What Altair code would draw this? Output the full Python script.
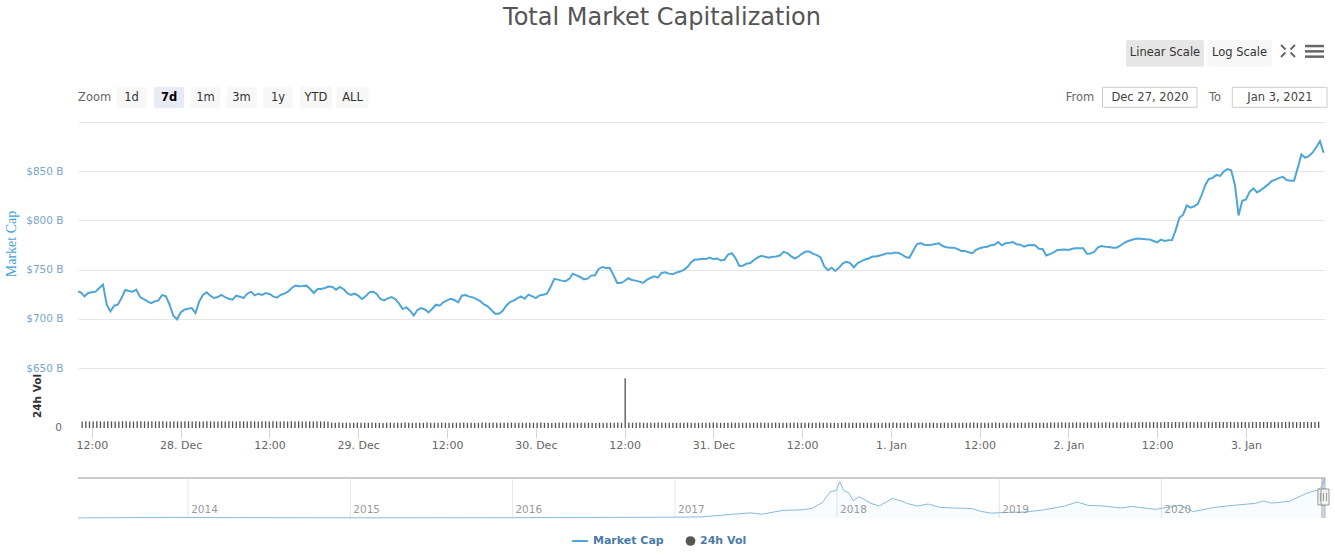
import altair as alt
import pandas as pd

# ---------------------------------------------------------------- data
# Total crypto market capitalisation (USD bn), one reading every 30 min
# starting 27 Dec 2020 10:00.
cap_bn = [
    727.9, 726.9, 722.8, 726.2, 726.9, 727.6, 731.3, 734.7, 714.3, 707.5,
    713.3, 714.3, 721.1, 729.3, 728.2, 727.6, 729.6, 722.1, 720.1, 717.7,
    716.0, 717.7, 718.7, 724.2, 722.8, 714.3, 703.1, 699.5, 706.5, 709.2,
    710.2, 710.9, 705.8, 717.7, 724.2, 726.9, 723.5, 721.1, 722.1, 724.2,
    722.1, 720.4, 719.4, 723.5, 722.5, 721.1, 725.5, 727.6, 723.8, 725.5,
    724.2, 726.2, 725.2, 722.8, 721.4, 724.2, 725.5, 727.6, 731.3, 733.7,
    733.0, 733.3, 733.7, 730.3, 726.2, 730.3, 730.3, 731.3, 732.7, 732.3,
    729.6, 732.3, 730.3, 726.2, 724.2, 725.5, 723.5, 720.1, 722.8, 726.9,
    727.6, 725.2, 720.1, 718.7, 720.8,
    722.1, 720.1, 715.7, 709.9, 711.6, 708.2, 703.4, 708.9, 710.9, 709.5,
    706.5, 710.2, 714.3, 713.3, 716.7, 718.7, 720.4, 719.1, 716.7, 723.5,
    724.2, 722.5, 721.8, 720.1, 718.0, 714.6, 712.6, 708.9, 705.1, 705.1,
    707.8, 713.3, 717.0, 718.4, 720.8, 722.8, 720.4, 724.5, 723.1, 721.1,
    723.8, 724.5, 725.5, 732.3, 740.5, 739.8, 738.8, 738.1, 740.5, 745.9,
    744.2, 742.5, 740.1, 740.8, 743.9, 744.2, 750.7, 752.7, 751.7, 751.7,
    744.6, 736.4, 736.4, 738.4, 741.2, 739.5, 738.8, 737.8, 736.4, 739.5,
    741.5, 743.2, 741.8, 746.6, 747.3, 745.9, 745.2, 746.9, 748.0, 749.7,
    752.7, 757.5, 760.2, 760.2, 760.9,
    760.7, 762.3, 760.7, 761.3, 759.3, 760.0, 765.3, 766.7, 761.7, 753.7,
    754.0, 756.0, 756.7, 759.7, 762.3, 764.0, 763.0, 762.0, 763.0, 763.3,
    764.3, 768.0, 766.7, 763.7, 761.3, 763.3, 766.3, 768.3, 768.3, 766.0,
    764.7, 762.3, 753.3, 749.5, 752.0, 748.7, 752.0, 756.3, 758.0, 756.7,
    752.3, 756.7, 758.3, 760.3, 761.3, 763.3, 763.3, 764.3, 765.3, 766.7,
    766.3, 767.0, 767.0, 765.3, 762.7, 762.0, 769.0, 775.7, 777.0, 775.3,
    775.0, 775.3, 776.0, 776.7, 774.0, 772.7, 772.3, 772.3, 771.0, 769.0,
    769.0, 767.7, 766.7, 770.0, 771.7, 772.7, 773.3, 774.7, 775.3, 778.0,
    774.7, 776.7, 777.3, 778.0, 775.7,
    775.3, 773.3, 774.7, 775.0, 774.7, 771.2, 770.9, 764.4, 765.7, 767.5,
    769.9, 770.2, 770.5, 769.9, 771.2, 771.6, 771.6, 771.6, 766.1, 766.4,
    768.1, 772.6, 774.0, 773.3, 772.9, 772.3, 772.3, 774.3, 777.0, 778.8,
    780.1, 781.2, 781.5, 781.2, 780.8, 780.5, 779.1, 777.7, 780.5, 779.1,
    779.8, 780.1, 790.1, 802.7, 805.8, 815.1, 813.0, 814.4, 816.8, 825.7,
    836.0, 842.1, 843.2, 846.2, 845.2, 849.7, 852.1, 851.0, 836.3, 805.0,
    819.9, 821.2, 829.1, 832.5, 828.4, 830.8, 833.6, 836.6, 840.1, 841.4,
    843.2, 844.2, 841.1, 840.4, 840.4, 853.4, 867.1, 863.7, 865.4, 868.8,
    874.3, 880.5, 868.8,
]

# 24h traded volume (USD bn) at the same timestamps
vol_bn = [
    192, 196, 190, 194, 198, 193, 189, 195, 197, 191, 194, 199, 196, 192, 190, 195, 198, 194, 191, 196, 193, 197, 195, 190,
    194, 198, 192, 189, 195, 197, 193, 196, 191, 194, 199, 195, 192, 190, 196, 193, 197, 194, 191, 195, 198, 192, 196, 193,
    190, 195, 197, 193, 196, 192, 194, 198, 191, 195, 193, 197, 194, 190, 196, 192, 195, 193, 189, 194, 158, 154, 160, 156,
    152, 157, 155, 159, 153, 156, 151, 158, 154, 157, 150, 155, 159, 153, 156, 152, 158, 154, 151, 157, 155, 153, 159, 156,
    152, 155, 158, 154, 151, 157, 153, 156, 159, 152, 155, 150, 154, 158, 153, 156, 152, 157, 154, 151, 155, 158, 153, 156,
    154, 151, 157, 153, 156, 159, 152, 155, 150, 154, 158, 153, 157, 152, 155, 151, 156, 154, 158, 153, 150, 155, 157, 152,
    156, 153, 158, 154, 1460, 157, 152, 155, 159, 153, 156, 151, 154, 158, 152, 155, 157, 153, 150, 156, 154, 158, 152, 155,
    153, 157, 151, 155, 158, 154, 152, 156, 153, 159, 155, 151, 154, 157, 152, 156, 153, 158, 155, 151, 154, 157, 153, 156,
    152, 155, 158, 153, 156, 151, 154, 157, 153, 159, 155, 152, 156, 153, 150, 154, 158, 152, 155, 157, 153, 156, 151, 154,
    157, 153, 156, 152, 155, 159, 154, 151, 156, 153, 158, 155, 152, 154, 157, 153, 156, 150, 155, 158, 152, 154, 157, 153,
    156, 152, 155, 158, 153, 157, 151, 154, 156, 159, 153, 155, 152, 157, 154, 151, 156, 153, 158, 155, 152, 154, 157, 153,
    160, 163, 158, 165, 161, 164, 159, 166, 162, 160, 165, 163, 158, 164, 161, 167, 163, 160, 165, 162, 168, 164, 161, 166,
    170, 174, 168, 172, 176, 171, 169, 175, 173, 170, 177, 172, 174, 169, 176, 171, 175, 173, 170, 178, 172, 174, 171, 176,
    173, 177, 171, 175, 179, 174, 172, 178, 175, 173, 180, 176, 174, 178, 172, 177, 175, 181, 176, 173, 179, 175, 178, 174,
    177, 180,
]

# Full-history market cap (USD bn) for the navigator strip
nav_dates = [
    "2013-04-28", "2013-11-30", "2014-03-01", "2014-09-01", "2015-01-15", "2015-08-01",
    "2016-01-01", "2016-06-15", "2016-12-31", "2017-03-01", "2017-05-25", "2017-06-20",
    "2017-07-15", "2017-08-31", "2017-10-15", "2017-11-05", "2017-11-28", "2017-12-17",
    "2017-12-30", "2018-01-07", "2018-01-16", "2018-01-28", "2018-02-06", "2018-02-20",
    "2018-03-01", "2018-03-18", "2018-04-06", "2018-05-05", "2018-05-20", "2018-06-10",
    "2018-07-01", "2018-07-25", "2018-08-20", "2018-09-20", "2018-10-31", "2018-11-20",
    "2018-12-14", "2019-01-15", "2019-03-01", "2019-04-10", "2019-05-28", "2019-06-26",
    "2019-07-20", "2019-08-25", "2019-10-01", "2019-10-27", "2019-12-18", "2020-02-13",
    "2020-03-13", "2020-04-30", "2020-06-01", "2020-07-31", "2020-08-17", "2020-09-05",
    "2020-10-15", "2020-11-24", "2020-12-17", "2020-12-27", "2021-01-03",
]
nav_caps = [
    1.6, 14, 9, 6, 4, 5,
    7, 12, 18, 25, 95, 115,
    85, 170, 185, 215, 340, 590,
    620, 815, 620, 560, 390, 480,
    430, 330, 270, 440, 400, 320,
    270, 315, 240, 225, 215, 150,
    110, 125, 135, 180, 270, 360,
    285, 270, 225, 260, 195, 290,
    145, 240, 275, 330, 385, 335,
    375, 560, 630, 700, 880,
]

year_starts = ["2014-01-01", "2015-01-01", "2016-01-01", "2017-01-01",
               "2018-01-01", "2019-01-01", "2020-01-01"]
year_names = ["2014", "2015", "2016", "2017", "2018", "2019", "2020"]

zoom_labels = ["1d", "7d", "1m", "3m", "1y", "YTD", "ALL"]
selected_zoom = "7d"
range_from, range_to = "Dec 27, 2020", "Jan 3, 2021"
view_start, view_end = "2020-12-27 10:07", "2021-01-03 10:41"

# ---------------------------------------------------------------- layout
LEFT, TOP = 78, 122            # plot origin on the page
PLOT_W, PLOT_H = 1247, 396     # main + volume + navigator stacked
FONT = "DejaVu Sans"
CAP_COLOR = "#4fa6d6"
VOL_COLOR = "#505055"
LEGEND_TEXT = "#4a7aa8"


def dt(ts):
    ts = pd.Timestamp(ts)
    return alt.DateTime(year=ts.year, month=ts.month, date=ts.day,
                        hours=ts.hour, minutes=ts.minute)


times = pd.date_range("2020-12-27 10:00", periods=len(cap_bn), freq="30min")
series = pd.DataFrame({"time": times, "cap": cap_bn, "vol": vol_bn, "base": 0.0})
nav = pd.DataFrame({"date": pd.to_datetime(nav_dates), "cap": nav_caps})
years = pd.DataFrame({"date": pd.to_datetime(year_starts), "label": year_names})
window = pd.DataFrame({"start": [pd.Timestamp(view_start)], "end": [pd.Timestamp(view_end)]})
edges = pd.DataFrame({"t": [pd.Timestamp(view_start), pd.Timestamp(view_end)]})

x_main = alt.Scale(domain=[dt(view_start), dt(view_end)], nice=False)
x_nav = alt.Scale(domain=[dt("2013-04-28"), dt(view_end)], nice=False)
nav_y = alt.Scale(domain=[0, 900], range=[396, 356], nice=False)

tick_times = [dt(t) for t in pd.date_range("2020-12-27 12:00", "2021-01-03 00:00", freq="12h")]

# ---------------------------------------------------------------- main series
price_line = alt.Chart(series).mark_line(color=CAP_COLOR, strokeWidth=2, clip=True).encode(
    x=alt.X("time:T", scale=x_main, axis=alt.Axis(
        values=tick_times,
        labelExpr="hours(datum.value) === 0 ? timeFormat(datum.value, '%-d. %b') : timeFormat(datum.value, '%H:%M')",
        offset=-90, grid=False, domain=False, tickColor="#ccd6eb", tickSize=10,
        labelPadding=1, labelColor="#666666", labelFont=FONT, labelFontSize=11,
        labelFlush=False, labelOverlap=False, title=None)),
    y=alt.Y("cap:Q", scale=alt.Scale(domain=[650, 900], range=[246, 0], nice=False), axis=alt.Axis(
        values=[650, 700, 750, 800, 850, 900],
        labelExpr="datum.value >= 900 ? '' : '$' + datum.value + ' B'",
        grid=True, gridColor="#e6e6e6", domain=False, ticks=False, labelPadding=15,
        labelColor="#78a5c8", labelFont=FONT, labelFontSize=10.5, title=None)),
)

volume_bars = alt.Chart(series).mark_bar(color=VOL_COLOR, size=1.3, clip=True).encode(
    x=alt.X("time:T", scale=x_main, axis=None),
    y=alt.Y("vol:Q", scale=alt.Scale(domain=[0, 1700], range=[306, 248], nice=False), axis=None),
    y2="base:Q",
)

# ---------------------------------------------------------------- navigator
nav_x_enc = alt.X("date:T", scale=x_nav, axis=None)
nav_area = alt.Chart(nav).mark_area(color=CAP_COLOR, opacity=0.03).encode(
    x=nav_x_enc, y=alt.Y("cap:Q", scale=nav_y, axis=None))
nav_line = alt.Chart(nav).mark_line(color="#86bcdf", strokeWidth=1).encode(
    x=nav_x_enc, y=alt.Y("cap:Q", scale=nav_y, axis=None))
year_rules = alt.Chart(years).mark_rule(color="#e6e6e6").encode(
    x=nav_x_enc, y=alt.value(356), y2=alt.value(396))
year_text = alt.Chart(years).mark_text(align="left", dx=3, baseline="middle", font=FONT,
                                       fontSize=10.5, color="#999999").encode(
    x=nav_x_enc, y=alt.value(388), text="label:N")
nav_top = alt.Chart(years).mark_rule(color="#cccccc").encode(
    x=alt.value(0), x2=alt.value(PLOT_W), y=alt.value(356))
nav_mask = alt.Chart(window).mark_rect(color="#6685c2", opacity=0.3).encode(
    x=alt.X("start:T", scale=x_nav, axis=None), x2="end:T", y=alt.value(356), y2=alt.value(396))
edge_x = alt.X("t:T", scale=x_nav, axis=None)
edge_lines = alt.Chart(edges).mark_rule(color="#b5b5b5").encode(
    x=edge_x, y=alt.value(356), y2=alt.value(396))
handles = alt.Chart(edges).mark_rect(fill="#f2f2f2", stroke="#999999", strokeWidth=1,
                                     xOffset=-4, x2Offset=4).encode(
    x=edge_x, x2="t:T", y=alt.value(367), y2=alt.value(383))
grips = [
    alt.Chart(edges).mark_rule(color="#999999", xOffset=off).encode(
        x=edge_x, y=alt.value(371), y2=alt.value(379))
    for off in (-1.5, 1.5)
]


# ---------------------------------------------------------------- page furniture
def place(rows, cols):
    df = pd.DataFrame(rows, columns=cols)
    for c in df.columns:
        if c.startswith("x"):
            df[c] = df[c] - LEFT
        elif c.startswith("y"):
            df[c] = df[c] - TOP
    return df


def text_layer(df, **style):
    style.setdefault("font", FONT)
    return alt.Chart(df).mark_text(**style).encode(
        x=alt.X("x:Q", scale=None, axis=None),
        y=alt.Y("y:Q", scale=None, axis=None),
        text="label:N",
    )


def rect_layer(df, **style):
    return alt.Chart(df).mark_rect(**style).encode(
        x=alt.X("x1:Q", scale=None, axis=None), x2="x2:Q",
        y=alt.Y("y1:Q", scale=None, axis=None), y2="y2:Q",
        fill=alt.Fill("fill:N", scale=None),
    )


def rule_layer(df, **style):
    return alt.Chart(df).mark_rule(**style).encode(
        x=alt.X("x1:Q", scale=None, axis=None), x2="x2:Q",
        y=alt.Y("y1:Q", scale=None, axis=None), y2="y2:Q",
    )


zoom_left = [116.5, 154, 190.5, 226.5, 263, 300, 336.5]
zoom_width = [30, 30, 30, 30, 30, 32, 32]
btn_rows = [(l, l + w, 86.7, 108.3, "#e6ebf5" if z == selected_zoom else "#f7f7f7")
            for z, l, w in zip(zoom_labels, zoom_left, zoom_width)]
btn_rows += [(1126, 1204, 40, 66.7, "#e6e6e6"), (1207, 1272, 40, 66.7, "#f7f7f7")]
buttons = rect_layer(place(btn_rows, ["x1", "x2", "y1", "y2", "fill"]), cornerRadius=2)

btn_text_rows = [(z, l + w / 2, 97.5) for z, l, w in zip(zoom_labels, zoom_left, zoom_width)
                 if z != selected_zoom]
btn_text_rows += [("Linear Scale", 1165, 52.5), ("Log Scale", 1239.5, 52.5)]
btn_text = text_layer(place(btn_text_rows, ["label", "x", "y"]),
                      fontSize=11.5, color="#333333", baseline="middle")
sel_text = text_layer(place([(z, l + w / 2, 97.5) for z, l, w in zip(zoom_labels, zoom_left, zoom_width)
                             if z == selected_zoom], ["label", "x", "y"]),
                      fontSize=11.5, fontWeight="bold", color="#000000", baseline="middle")
zoom_word = text_layer(place([("Zoom", 78, 98)], ["label", "x", "y"]),
                       fontSize=11.5, color="#666666", baseline="middle", align="left")
from_to = text_layer(place([("From", 1080, 97.5), ("To", 1215, 97.5)], ["label", "x", "y"]),
                     fontSize=11.5, color="#666666", baseline="middle")
boxes = rect_layer(place([(1102.5, 1197, 87.3, 107.3, "#ffffff"), (1232.3, 1327, 87.3, 107.3, "#ffffff")],
                         ["x1", "x2", "y1", "y2", "fill"]), stroke="#cccccc", strokeWidth=1)
box_text = text_layer(place([(range_from, 1150, 97.5), (range_to, 1280, 97.5)], ["label", "x", "y"]),
                      fontSize=11.5, color="#444444", baseline="middle")

menu_bars = rect_layer(place([(1305, 1324, 44.8, 47.3, "#666666"), (1305, 1324, 50.1, 52.6, "#666666"),
                              (1305, 1324, 55.4, 57.9, "#666666")], ["x1", "x2", "y1", "y2", "fill"]))
collapse_icon = rule_layer(place([(1281, 1285.5, 45, 49.5), (1295, 1290.5, 45, 49.5),
                                  (1281, 1285.5, 57, 52.5), (1295, 1290.5, 57, 52.5)],
                                 ["x1", "x2", "y1", "y2"]), color="#666666", strokeWidth=2)

title = text_layer(place([("Total Market Capitalization", 662, 25)], ["label", "x", "y"]),
                   fontSize=24, color="#555555", baseline="alphabetic")

cap_title = text_layer(place([("Market Cap", 12, 244)], ["label", "x", "y"]),
                       font="Liberation Serif", fontSize=14, color="#46a0d7", angle=270, baseline="middle")
vol_title = text_layer(place([("24h Vol", 37.5, 396)], ["label", "x", "y"]),
                       fontSize=10.5, fontWeight="bold", color="#333333", angle=270, baseline="middle")
vol_zero = text_layer(place([("0", 62, 428)], ["label", "x", "y"]),
                      fontSize=10.5, color="#666666", align="right", baseline="middle")

legend_line = rule_layer(place([(572, 588, 541, 541)], ["x1", "x2", "y1", "y2"]),
                         color=CAP_COLOR, strokeWidth=2)
legend_dot = alt.Chart(place([(690.5, 541)], ["x", "y"])).mark_point(
    filled=True, color="#555555", opacity=1, size=95, shape="circle").encode(
    x=alt.X("x:Q", scale=None, axis=None), y=alt.Y("y:Q", scale=None, axis=None))
legend_text = text_layer(place([("Market Cap", 593, 541), ("24h Vol", 700, 541)], ["label", "x", "y"]),
                         fontSize=11, fontWeight="bold", color=LEGEND_TEXT, align="left", baseline="middle")

layers = [
    price_line, volume_bars,
    year_rules, nav_area, nav_line, year_text, nav_top, nav_mask, edge_lines, handles, *grips,
    buttons, btn_text, sel_text, zoom_word, from_to, boxes, box_text, menu_bars, collapse_icon,
    title, cap_title, vol_title, vol_zero, legend_line, legend_dot, legend_text,
]

chart = alt.layer(*layers).resolve_scale(x="independent", y="independent").properties(
    width=PLOT_W, height=PLOT_H,
    padding={"left": LEFT, "top": TOP, "right": 10, "bottom": 40},
    autosize=alt.AutoSizeParams(type="none"),
    background="#ffffff",
).configure_view(stroke=None)

chart.save("out.html", embed_options={"renderer": "svg", "actions": False})
